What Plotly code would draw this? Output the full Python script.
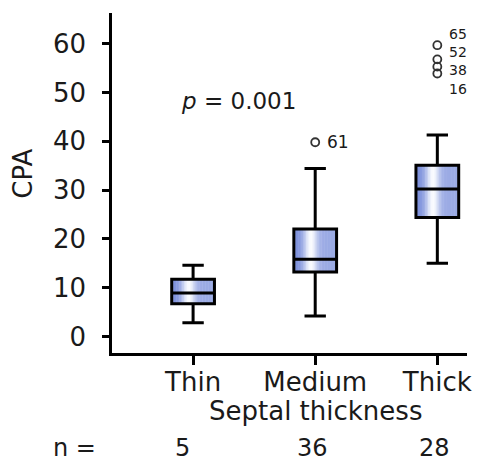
import plotly.graph_objects as go
import math

# ---- data ----
categories = ["Thin", "Medium", "Thick"]
x_pos = [1, 2, 3]
q1 = [6.7, 13.2, 24.4]
median = [8.9, 15.8, 30.2]
q3 = [11.7, 22.0, 35.1]
lower_fence = [2.8, 4.2, 15.0]
upper_fence = [14.6, 34.4, 41.3]
n_counts = [5, 36, 28]

outlier_x = [2, 3, 3, 3, 3]
outlier_y = [39.8, 59.7, 56.8, 55.3, 53.9]
outlier_ids = ["61", "65", "52", "38", "16"]
outlier_label_y = [39.8, 61.3, 58.0, 54.7, 51.4]

y_ticks = [0, 10, 20, 30, 40, 50, 60]
p_text = "<i>p</i> = 0.001"

# ---- style ----
FONT = "DejaVu Sans"
TXT = "#1a1a1a"
BOX_W = 0.35
EDGE = (124, 144, 220)
N_STRIPS = 28
TICK_SIZE = 26


def grad_color(t):
    if t < 0.4:
        f = math.exp(-((t - 0.4) / 0.18) ** 2)
    else:
        f = 0.25 + 0.75 * math.exp(-((t - 0.4) / 0.15) ** 2)
    r = int(EDGE[0] + (250 - EDGE[0]) * f)
    g = int(EDGE[1] + (252 - EDGE[1]) * f)
    b = int(EDGE[2] + (255 - EDGE[2]) * f)
    return f"rgb({r},{g},{b})"


fig = go.Figure()

shapes = []
for xc, lo, hi in zip(x_pos, q1, q3):
    left = xc - BOX_W / 2
    step = BOX_W / N_STRIPS
    for i in range(N_STRIPS):
        t = (i + 0.5) / N_STRIPS
        shapes.append(dict(
            type="rect", xref="x", yref="y", layer="below",
            x0=left + i * step, x1=min(left + (i + 1.3) * step, xc + BOX_W / 2),
            y0=lo, y1=hi, line=dict(width=0), fillcolor=grad_color(t),
        ))

fig.add_trace(go.Box(
    x=x_pos, q1=q1, median=median, q3=q3,
    lowerfence=lower_fence, upperfence=upper_fence,
    boxpoints=False, width=BOX_W, whiskerwidth=0.5,
    fillcolor="rgba(0,0,0,0)", line=dict(color="black", width=3),
    showlegend=False, hoverinfo="skip",
))

fig.add_trace(go.Scatter(
    x=outlier_x, y=outlier_y, mode="markers",
    marker=dict(symbol="circle-open", size=8, color="#333",
                line=dict(width=1.8, color="#333")),
    showlegend=False, hoverinfo="skip", cliponaxis=False,
))

annotations = []
# group outlier labels per category into one stacked label
groups = {}
for xo, ly, lab in zip(outlier_x, outlier_label_y, outlier_ids):
    groups.setdefault(xo, []).append((ly, lab))
for xo, items in groups.items():
    items.sort(key=lambda t: -t[0])
    ys = [t[0] for t in items]
    annotations.append(dict(
        x=xo, y=(max(ys) + min(ys)) / 2, xref="x", yref="y",
        text="<br>".join(t[1] for t in items), showarrow=False,
        xanchor="left", yanchor="middle", xshift=11, align="left",
        borderpad=0,
        font=dict(family=FONT, size=17 if len(items) == 1 else 14, color=TXT),
    ))

annotations.append(dict(
    x=1.372, y=48.3, xref="x", yref="y", text=p_text, showarrow=False,
    xanchor="center", yanchor="middle",
    font=dict(family=FONT, size=23, color=TXT),
))

annotations.append(dict(
    x=0, y=0.5275, xref="paper", yref="paper", text="CPA", showarrow=False,
    textangle=-90, xanchor="center", yanchor="middle", xshift=-89,
    font=dict(family=FONT, size=26, color=TXT),
))

annotations.append(dict(
    x=2, y=0, xref="x", yref="paper", text="Septal thickness", showarrow=False,
    xanchor="center", yanchor="middle", yshift=-58,
    font=dict(family=FONT, size=TICK_SIZE, color=TXT),
))

annotations.append(dict(
    x=0, y=0, xref="paper", yref="paper", text="n =", showarrow=False,
    xanchor="center", yanchor="middle", xshift=-38, yshift=-95,
    font=dict(family=FONT, size=24, color=TXT),
))

for xc, n in zip(x_pos, n_counts):
    annotations.append(dict(
        x=xc - BOX_W / 2, y=0, xref="x", yref="paper", text=str(n),
        showarrow=False, xanchor="left", yanchor="middle", xshift=1, yshift=-95,
        font=dict(family=FONT, size=24, color=TXT),
    ))

fig.update_layout(
    width=481, height=462,
    margin=dict(l=112, r=10, t=13, b=109),
    paper_bgcolor="white", plot_bgcolor="white",
    shapes=shapes, annotations=annotations,
    font=dict(family=FONT, color=TXT),
    xaxis=dict(
        range=[0.336, 3.243], tickvals=x_pos, ticktext=categories,
        showline=True, linecolor="black", linewidth=2.5,
        ticks="outside", ticklen=9, tickwidth=2.5, tickcolor="black",
        showgrid=False, zeroline=False, ticklabelstandoff=-5,
        tickfont=dict(family=FONT, size=TICK_SIZE, color=TXT),
    ),
    yaxis=dict(
        range=[-3.4, 66.3], tickvals=y_ticks,
        showline=True, linecolor="black", linewidth=2.5,
        ticks="outside", ticklen=7, tickwidth=2.5, tickcolor="black",
        showgrid=False, zeroline=False, ticklabelstandoff=11,
        tickfont=dict(family=FONT, size=TICK_SIZE, color=TXT),
    ),
)

fig.write_html(
    "out.html",
    config={"displayModeBar": False},
    post_script="document.body.style.margin='0';document.body.style.overflow='hidden';",
)
